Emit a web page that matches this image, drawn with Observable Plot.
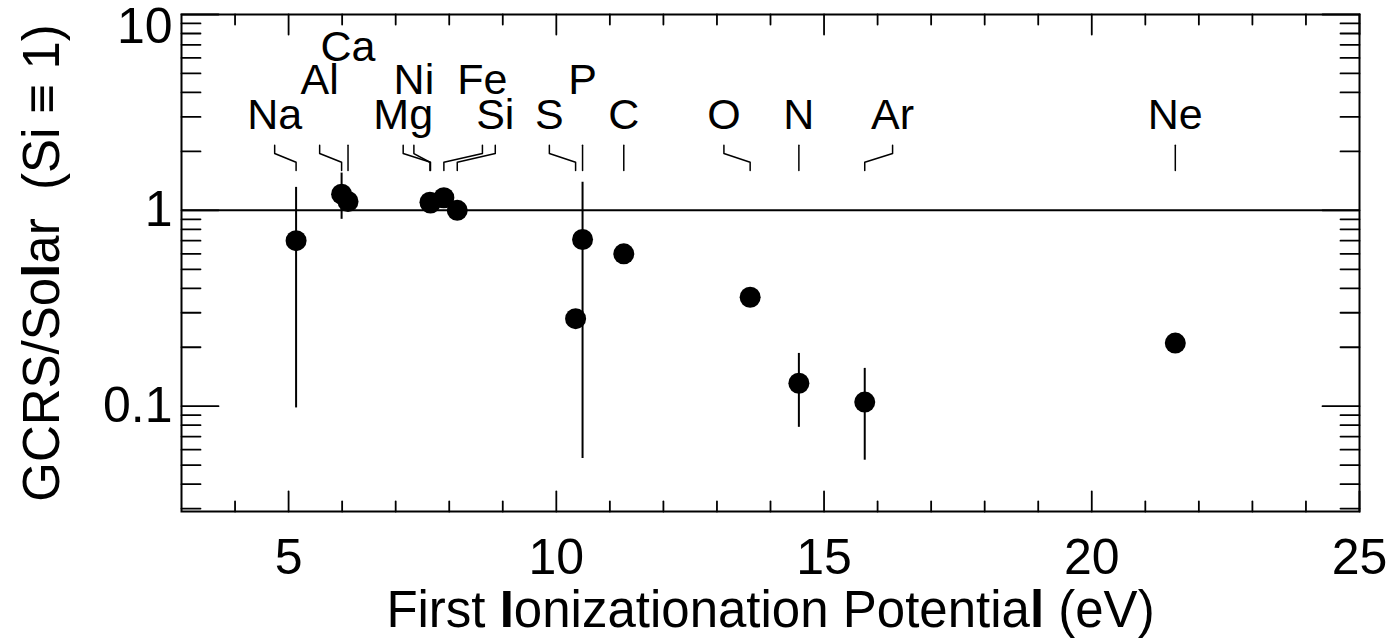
<!DOCTYPE html>
<html>
<head>
<meta charset="utf-8">
<script src="https://cdn.jsdelivr.net/npm/d3@7"></script>
<script src="https://cdn.jsdelivr.net/npm/@observablehq/plot@0.6"></script>
<style>
  html, body { margin: 0; padding: 0; background: #fff; }
  #chart svg { display: block; }
</style>
</head>
<body>
<div id="chart"></div>
<script>
// GCRS / solar abundance ratio (normalised to Si) versus first ionization potential
const elements = ["Na", "Al", "Ca", "Mg", "Ni", "Fe", "Si", "S", "P", "C", "O", "N", "Ar", "Ne"];
const fip      = [5.14, 5.99, 6.11, 7.65, 7.64, 7.90, 8.15, 10.36, 10.49, 11.26, 13.62, 14.53, 15.76, 21.56];
const ratio    = [0.70, 1.21, 1.11, 1.09, 1.10, 1.16, 1.00, 0.28, 0.71, 0.60, 0.36, 0.131, 0.105, 0.21];

// elements with error bars
const errElements = ["Na", "Al", "P", "N", "Ar"];
const errLow      = [0.098, 0.90, 0.054, 0.078, 0.053];
const errHigh     = [1.31, 1.55, 1.39, 0.186, 0.156];

// name labels: x position (eV) and row (0 = lowest row)
const labelX   = [4.74, 5.58, 6.11, 7.14, 7.34, 8.62, 8.86, 9.87, 10.49, 11.26, 13.13, 14.53, 16.28, 21.56];
const labelRow = [0, 1, 2, 0, 1, 1, 0, 0, 1, 0, 0, 0, 0, 0];
const rowLevel = [3.05, 4.6, 6.8];
// leader line levels: top, first bend, second bend, bottom
const leaderLevels = [2.15, 1.95, 1.76, 1.6];

// axis ticks
const xMajor = [5, 10, 15, 20, 25];
const xMinor = [4, 6, 7, 8, 9, 11, 12, 13, 14, 16, 17, 18, 19, 21, 22, 23, 24];
const yMajor = [0.1, 1, 10];
const yMinor = [0.03, 0.04, 0.05, 0.06, 0.07, 0.08, 0.09,
                0.2, 0.3, 0.4, 0.5, 0.6, 0.7, 0.8, 0.9,
                2, 3, 4, 5, 6, 7, 8, 9];

const xTitle = "First Ionizationation Potential (eV)";
const yTitle = "GCRS/Solar\u00a0 (Si \u2261 1)";

const points = elements.map((el, i) => ({el, fip: fip[i], ratio: ratio[i], lx: labelX[i], row: labelRow[i]}));
const bars = errElements.map((el, i) => ({el, fip: fip[elements.indexOf(el)], lo: errLow[i], hi: errHigh[i]}));
const leaders = points.flatMap(p => [
  {el: p.el, x: p.lx,  y: leaderLevels[0]},
  {el: p.el, x: p.lx,  y: leaderLevels[1]},
  {el: p.el, x: p.fip, y: leaderLevels[2]},
  {el: p.el, x: p.fip, y: leaderLevels[3]}
]);

// inward tick: a plain line from the anchor point
const tickShape = {draw(context, l) { context.moveTo(0, 0); context.lineTo(0, -l); }};
const tick = {shape: tickShape, anchor: "start", stroke: "black", strokeWidth: 1.8};

const chart = Plot.plot({
  width: 1391,
  height: 640,
  marginLeft: 181,
  marginRight: 32,
  marginTop: 14,
  marginBottom: 129,
  style: {fontFamily: "'Liberation Sans', Arial, Helvetica, sans-serif", color: "black", background: "white"},
  x: {domain: [3, 25]},
  y: {type: "log", domain: [0.029, 10]},
  marks: [
    Plot.ruleY([1], {stroke: "black", strokeWidth: 2}),
    Plot.vector(xMinor, {x: d => d, frameAnchor: "bottom", length: 10, rotate: 0, ...tick}),
    Plot.vector(xMajor, {x: d => d, frameAnchor: "bottom", length: 20, rotate: 0, ...tick}),
    Plot.vector(xMinor, {x: d => d, frameAnchor: "top", length: 10, rotate: 180, ...tick}),
    Plot.vector(xMajor, {x: d => d, frameAnchor: "top", length: 20, rotate: 180, ...tick}),
    Plot.vector(yMinor, {y: d => d, frameAnchor: "left", length: 19, rotate: 90, ...tick}),
    Plot.vector(yMajor, {y: d => d, frameAnchor: "left", length: 37, rotate: 90, ...tick}),
    Plot.vector(yMinor, {y: d => d, frameAnchor: "right", length: 19, rotate: -90, ...tick}),
    Plot.vector(yMajor, {y: d => d, frameAnchor: "right", length: 37, rotate: -90, ...tick}),
    Plot.frame({stroke: "black", strokeWidth: 2}),
    Plot.axisX(xMajor, {anchor: "bottom", tickSize: 0, tickPadding: 27, fontSize: 50, label: null, tickFormat: d => String(d)}),
    Plot.axisY([0.1, 1], {anchor: "left", tickSize: 0, tickPadding: 9, fontSize: 50, label: null, tickFormat: d => String(d)}),
    Plot.axisY([10], {anchor: "left", tickSize: 0, tickPadding: 9, fontSize: 50, label: null, dy: 12, tickFormat: d => String(d)}),
    Plot.ruleX(bars, {x: "fip", y1: "lo", y2: "hi", stroke: "black", strokeWidth: 2}),
    Plot.line(leaders, {x: "x", y: "y", z: "el", stroke: "black", strokeWidth: 1.5}),
    Plot.dot(points, {x: "fip", y: "ratio", r: 10.5, fill: "black"}),
    Plot.text(points, {x: "lx", y: d => rowLevel[d.row], text: "el", fontSize: 43, fill: "black"}),
    Plot.text([xTitle], {text: d => d, frameAnchor: "bottom", dy: 99, textAnchor: "middle", lineAnchor: "middle", fontSize: 51, fill: "black"}),
    Plot.text([yTitle], {text: d => d, frameAnchor: "left", dx: -139, rotate: -90, textAnchor: "middle", lineAnchor: "middle", fontSize: 51, fill: "black"})
  ]
});

// heavier strokes on a few letters of the axis titles
function emboldenLetters(svg, content, boldIndices) {
  for (const t of svg.querySelectorAll("text")) {
    if (t.textContent !== content) continue;
    t.textContent = "";
    const chars = [...content];
    let run = "", runBold = boldIndices.includes(0);
    const flush = () => {
      if (!run) return;
      const span = document.createElementNS("http://www.w3.org/2000/svg", "tspan");
      span.textContent = run;
      if (runBold) span.setAttribute("font-weight", "bold");
      t.appendChild(span);
      run = "";
    };
    chars.forEach((ch, i) => {
      const b = boldIndices.includes(i);
      if (b !== runBold) { flush(); runBold = b; }
      run += ch;
    });
    flush();
  }
}
emboldenLetters(chart, xTitle, [6, 30]);
emboldenLetters(chart, yTitle, [7]);

document.getElementById("chart").appendChild(chart);
</script>
</body>
</html>
